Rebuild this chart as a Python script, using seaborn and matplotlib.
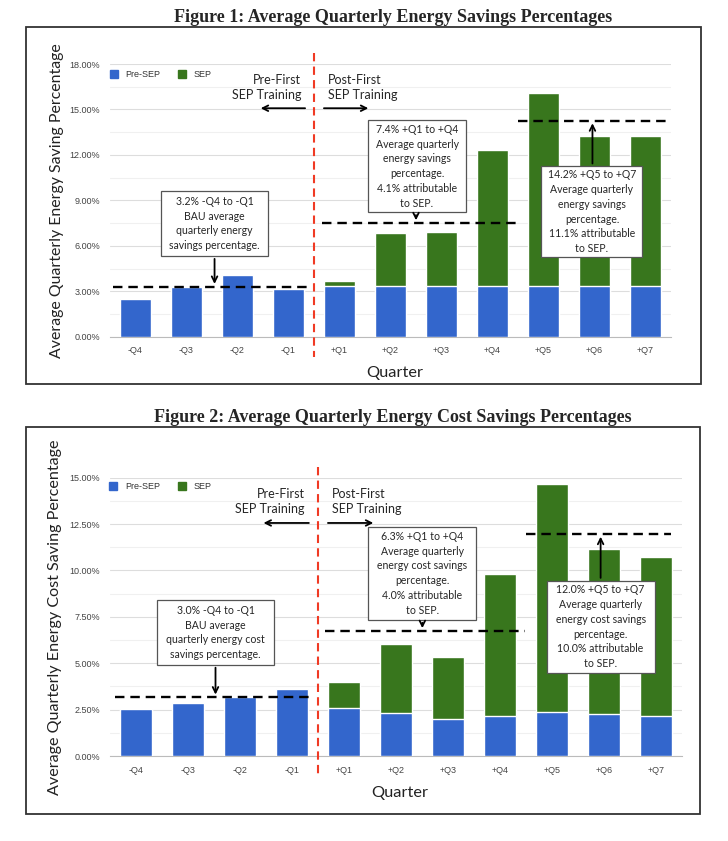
"""
Average quarterly energy (cost) savings, before and after first SEP training.
Two stacked-bar panels, each in its own framed box with a serif title.
"""

import matplotlib
matplotlib.use("Agg")
import matplotlib.pyplot as plt
from matplotlib.patches import Rectangle
from matplotlib.lines import Line2D
from matplotlib.ticker import FuncFormatter, MultipleLocator
import seaborn as sns
import pandas as pd

sns.set_style("white")
plt.rcParams["font.family"] = ["Liberation Sans", "DejaVu Sans"]

BLUE = "#3366cc"
GREEN = "#38761d"
NOTE_FONT = ["Lato", "DejaVu Sans"]

quarters = ["-Q4", "-Q3", "-Q2", "-Q1", "+Q1", "+Q2", "+Q3", "+Q4", "+Q5", "+Q6", "+Q7"]

# Figure 1: energy savings (%)
energy_pre = [2.47, 3.30, 4.05, 3.12, 3.34, 3.34, 3.34, 3.34, 3.34, 3.34, 3.34]
energy_sep = [0, 0, 0, 0, 0.33, 3.48, 3.54, 9.01, 12.76, 9.89, 9.89]
energy_avgs = [3.3, 7.5, 14.27]  # BAU, +Q1..+Q4, +Q5..+Q7

# Figure 2: energy cost savings (%)
cost_pre = [2.52, 2.87, 3.16, 3.63, 2.60, 2.34, 2.00, 2.16, 2.35, 2.26, 2.16]
cost_sep = [0, 0, 0, 0, 1.37, 3.70, 3.35, 7.63, 12.31, 8.90, 8.57]
cost_avgs = [3.16, 6.74, 11.97]

energy_notes = [
    "3.2% -Q4 to -Q1\nBAU average\nquarterly energy\nsavings percentage.",
    "7.4% +Q1 to +Q4\nAverage quarterly\nenergy savings\npercentage.\n4.1% attributable\nto SEP.",
    "14.2% +Q5 to +Q7\nAverage quarterly\nenergy savings\npercentage.\n11.1% attributable\nto SEP.",
]
cost_notes = [
    "3.0% -Q4 to -Q1\nBAU average\nquarterly energy cost\nsavings percentage.",
    "6.3% +Q1 to +Q4\nAverage quarterly\nenergy cost savings\npercentage.\n4.0% attributable\nto SEP.",
    "12.0% +Q5 to +Q7\nAverage quarterly\nenergy cost savings\npercentage.\n10.0% attributable\nto SEP.",
]

W, H = 728, 841


def px_axes(fig, left, top, right, bottom):
    """Add axes from pixel edges (origin top-left)."""
    return fig.add_axes([left / W, 1 - bottom / H, (right - left) / W, (bottom - top) / H])


def draw_box(fig, left, top, right, bottom):
    fig.patches.append(Rectangle((left / W, 1 - bottom / H), (right - left) / W,
                                 (bottom - top) / H, transform=fig.transFigure,
                                 fill=False, edgecolor="#333333", lw=1.3))


def draw_panel(ax, pre, sep, avgs, notes, ymax, major, ylabel, layout):
    df = pd.DataFrame({"quarter": quarters, "pre": pre, "sep": sep})
    df["total"] = df["pre"] + df["sep"]

    # stacked bars: total in green, pre-SEP part drawn over it in blue
    sns.barplot(data=df, x="quarter", y="total", color=GREEN, width=0.62,
                saturation=1, ax=ax, zorder=2)
    sns.barplot(data=df, x="quarter", y="pre", color=BLUE, width=0.62,
                saturation=1, ax=ax, zorder=3)

    ax.set_xlim(-0.5, 10.5)
    ax.set_ylim(0, ymax)
    ax.yaxis.set_major_locator(MultipleLocator(major))
    ax.yaxis.set_minor_locator(MultipleLocator(major / 2))
    ax.yaxis.set_major_formatter(FuncFormatter(lambda v, p: f"{v:.2f}%"))
    ax.grid(axis="y", which="major", color="#dddddd", lw=0.8, zorder=0)
    ax.grid(axis="y", which="minor", color="#f0f0f0", lw=0.8, zorder=0)
    ax.set_axisbelow(True)
    for s in ["top", "right", "left"]:
        ax.spines[s].set_visible(False)
    ax.spines["bottom"].set_color("#bbbbbb")
    ax.tick_params(length=0, pad=7, labelsize=6.5, labelcolor="#444444")

    ax.set_ylabel(ylabel, fontsize=layout["ylab_size"], family=NOTE_FONT, color="#222222")
    ax.set_xlabel("Quarter", fontsize=11.8, family=NOTE_FONT, color="#222222")
    ax.yaxis.set_label_coords(layout["ylab_x"], 0.5)
    ax.xaxis.set_label_coords(0.507, layout["xlab_y"])

    # training divider
    ax.plot([3.5, 3.5], layout["red_y"], color="#f03a24", lw=1.5,
            ls=(0, (4, 2.5)), clip_on=False, zorder=4)

    # period averages
    spans = layout["spans"]
    for (x0, x1), v in zip(spans, avgs):
        ax.plot([x0, x1], [v, v], color="black", lw=1.7, ls=(0, (4, 2.5)), zorder=5)

    # note boxes with arrows to the average lines
    for (bx0, bx1, by0, by1), ax_x, v, text in zip(layout["boxes"], layout["arrow_x"], avgs, notes):
        ax.add_patch(Rectangle((bx0, by0), bx1 - bx0, by1 - by0, facecolor="white",
                               edgecolor="#555555", lw=0.9, zorder=6))
        ax.text((bx0 + bx1) / 2, (by0 + by1) / 2, text, ha="center", va="center",
                fontsize=7.6, family=NOTE_FONT, linespacing=1.42, zorder=7)
        start = by0 if v < by0 else by1
        ax.annotate("", xy=(ax_x, v), xytext=(ax_x, start),
                    arrowprops=dict(arrowstyle="->", color="black", lw=1.3), zorder=7)

    # pre / post training labels
    ty, ay = layout["train_y"], layout["train_arrow_y"]
    ax.text(3.25, ty, "Pre-First\nSEP Training", ha="right", va="center",
            fontsize=9, family=NOTE_FONT, linespacing=1.3)
    ax.text(3.77, ty, "Post-First\nSEP Training", ha="left", va="center",
            fontsize=9, family=NOTE_FONT, linespacing=1.3)
    ax.annotate("", xy=(2.4, ay), xytext=(3.38, ay),
                arrowprops=dict(arrowstyle="->", color="black", lw=1.3))
    ax.annotate("", xy=(4.62, ay), xytext=(3.64, ay),
                arrowprops=dict(arrowstyle="->", color="black", lw=1.3))

    handles = [Line2D([], [], marker="s", ls="", color=BLUE, markersize=6),
               Line2D([], [], marker="s", ls="", color=GREEN, markersize=6)]
    ax.legend(handles, ["Pre-SEP", "SEP"], loc="center left", ncol=2, frameon=False,
              bbox_to_anchor=(-0.024, layout["leg_y"]), fontsize=6.5,
              handletextpad=0.3, columnspacing=1.4, labelcolor="#333333")


fig = plt.figure(figsize=(W / 100, H / 100), dpi=100)

# Figure 1
draw_box(fig, 26, 27, 701, 384)
fig.text(393 / W, 1 - 17 / H, "Figure 1: Average Quarterly Energy Savings Percentages",
         ha="center", va="center", fontsize=13, fontweight="bold",
         family=["Liberation Serif", "DejaVu Serif"])
ax1 = px_axes(fig, 110, 64, 671, 336.7)
draw_panel(ax1, energy_pre, energy_sep, energy_avgs, energy_notes, 18, 3,
           "Average Quarterly Energy Saving Percentage",
           dict(ylab_x=-0.082, xlab_y=-0.108, red_y=[18.7, -1.34], ylab_size=11.4,
                spans=[(-0.45, 3.4), (3.65, 7.5), (7.5, 10.4)],
                boxes=[(0.50, 2.60, 5.32, 9.62), (4.55, 6.49, 8.21, 14.28),
                       (7.96, 9.94, 5.25, 11.25)],
                arrow_x=[1.55, 5.5, 8.96],
                train_y=16.43, train_arrow_y=15.08, leg_y=0.962))

# Figure 2
draw_box(fig, 26, 427, 700, 814)
fig.text(393 / W, 1 - 417 / H, "Figure 2: Average Quarterly Energy Cost Savings Percentages",
         ha="center", va="center", fontsize=13, fontweight="bold",
         family=["Liberation Serif", "DejaVu Serif"])
ax2 = px_axes(fig, 110, 477.7, 681.7, 756)
draw_panel(ax2, cost_pre, cost_sep, cost_avgs, cost_notes, 15, 2.5,
           "Average Quarterly Energy Cost Saving Percentage",
           dict(ylab_x=-0.084, xlab_y=-0.108, red_y=[15.58, -1.02], ylab_size=11.6,
                spans=[(-0.4, 3.35), (3.63, 7.48), (7.5, 10.3)],
                boxes=[(0.40, 2.66, 4.91, 8.41), (4.46, 6.55, 7.33, 12.36),
                       (7.90, 9.98, 4.49, 9.45)],
                arrow_x=[1.53, 5.51, 8.94],
                train_y=13.73, train_arrow_y=12.56, leg_y=0.968))

fig.savefig("out.png", dpi=100, facecolor="white")
